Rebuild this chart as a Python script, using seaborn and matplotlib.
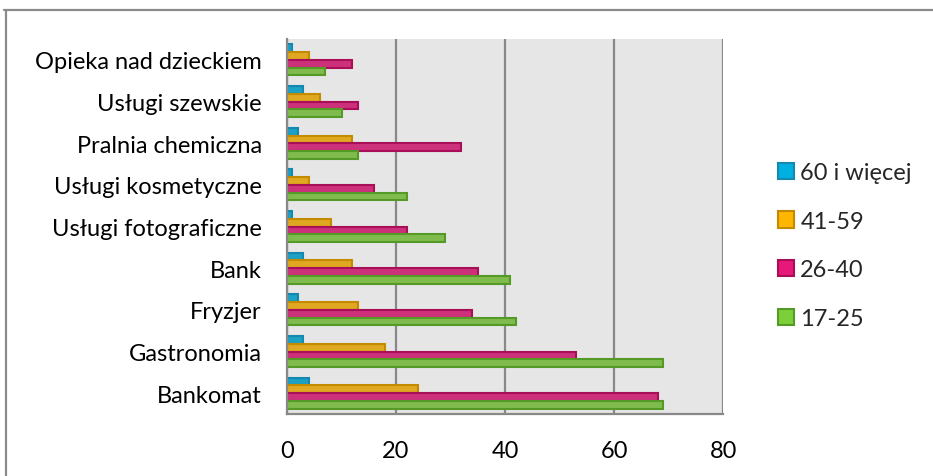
import matplotlib
matplotlib.use("Agg")
import matplotlib.pyplot as plt
from matplotlib.lines import Line2D
import seaborn as sns
import pandas as pd

# Services, listed top to bottom
categories = [
    "Opieka nad dzieckiem",
    "Usługi szewskie",
    "Pralnia chemiczna",
    "Usługi kosmetyczne",
    "Usługi fotograficzne",
    "Bank",
    "Fryzjer",
    "Gastronomia",
    "Bankomat",
]

# Age groups (legend order)
age_groups = ["60 i więcej", "41-59", "26-40", "17-25"]

values_60_plus = [1, 3, 2, 1, 1, 3, 2, 3, 4]
values_41_59 = [4, 6, 12, 4, 8, 12, 13, 18, 24]
values_26_40 = [12, 13, 32, 16, 22, 35, 34, 53, 68]
values_17_25 = [7, 10, 13, 22, 29, 41, 42, 69, 69]

x_ticks = [0, 20, 40, 60, 80]

fills = ["#00B0E0", "#FFB600", "#E8177A", "#7DCF3A"]
edges = ["#1488AE", "#C48A00", "#A80F58", "#559A26"]

series = [values_60_plus, values_41_59, values_26_40, values_17_25]
df = pd.DataFrame(
    [
        {"usługa": c, "wiek": g, "wartość": v}
        for g, vals in zip(age_groups, series)
        for c, v in zip(categories, vals)
    ]
)

sns.set_style("white")
plt.rcParams["font.family"] = ["Lato", "DejaVu Sans"]

fig = plt.figure(figsize=(9.33, 4.77), dpi=100)
ax = fig.add_axes([0.3076, 0.130, 0.775 - 0.3076, 0.916 - 0.130])

sns.barplot(
    data=df,
    y="usługa",
    x="wartość",
    hue="wiek",
    order=categories,
    hue_order=age_groups,
    palette=fills,
    orient="h",
    width=0.74,
    linewidth=1.5,
    ax=ax,
    legend=True,
)

for cont, ec in zip(ax.containers, edges):
    for patch in cont:
        patch.set_edgecolor(ec)

ax.set_facecolor("#E6E6E6")
ax.set_xlim(0, 80)
ax.set_xticks(x_ticks)
ax.set_xticklabels([str(t) for t in x_ticks])
ax.set_xlabel("")
ax.set_ylabel("")
ax.xaxis.grid(True, color="#888888", linewidth=1.6)
ax.set_axisbelow(True)
ax.tick_params(axis="both", length=0, labelsize=17, colors="black")
ax.tick_params(axis="y", pad=18)
ax.tick_params(axis="x", pad=19)

for side in ["top", "right"]:
    ax.spines[side].set_visible(False)
for side in ["left", "bottom"]:
    ax.spines[side].set_color("#888888")
    ax.spines[side].set_linewidth(1.6)

ax.legend_.remove()
handles = [
    plt.Rectangle((0, 0), 1, 1, facecolor=f, edgecolor=e, linewidth=1.5)
    for f, e in zip(fills, edges)
]
fig.legend(
    handles,
    age_groups,
    loc="center left",
    bbox_to_anchor=(0.811, 0.483),
    frameon=False,
    fontsize=17,
    handlelength=0.7,
    handleheight=0.7,
    handletextpad=0.25,
    labelspacing=1.17,
)

# Outer chart frame (top and left edges)
fig.add_artist(Line2D([4 / 933, 1], [1 - 11 / 477] * 2, color="#8A8A8A", linewidth=1.6,
                      transform=fig.transFigure))
fig.add_artist(Line2D([6 / 933] * 2, [0, 1 - 11 / 477], color="#8A8A8A", linewidth=1.6,
                      transform=fig.transFigure))

fig.savefig("out.png", dpi=100, facecolor="white")
